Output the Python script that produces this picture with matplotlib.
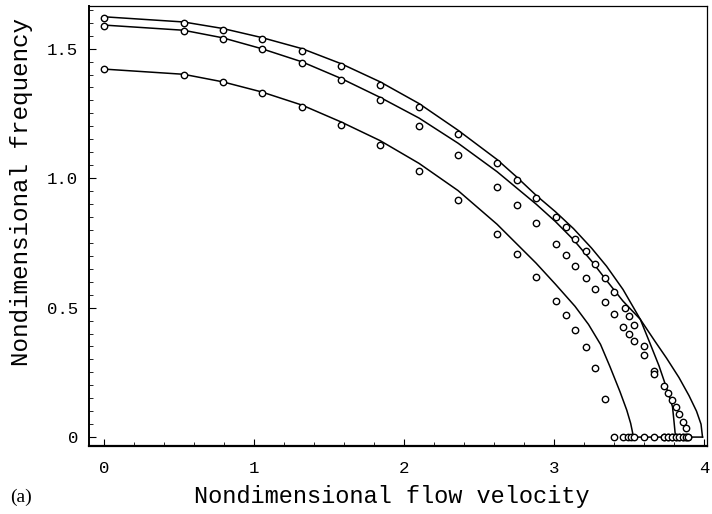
import numpy as np
import matplotlib.pyplot as plt
from matplotlib.ticker import MultipleLocator, FixedLocator

plt.rcParams['font.family'] = ['Liberation Mono', 'DejaVu Sans Mono']

# measured points (circles), three modes
x_top = [0.0, 0.53, 0.79, 1.05, 1.32, 1.58, 1.84, 2.10, 2.36, 2.62, 2.75, 2.88,
         3.01, 3.08, 3.14, 3.21, 3.27, 3.34, 3.40, 3.47, 3.50, 3.535, 3.60, 3.667,
         3.73, 3.757, 3.784, 3.81, 3.835, 3.862, 3.877, 3.89]
y_top = [1.619, 1.600, 1.571, 1.537, 1.490, 1.432, 1.360, 1.275, 1.172, 1.059, 0.992, 0.924,
         0.848, 0.810, 0.763, 0.718, 0.670, 0.616, 0.561, 0.500, 0.467, 0.431, 0.351, 0.257,
         0.196, 0.172, 0.145, 0.117, 0.088, 0.057, 0.037, 0.0]

x_mid = [0.0, 0.53, 0.79, 1.05, 1.32, 1.58, 1.84, 2.10, 2.36, 2.62, 2.75, 2.88,
         3.01, 3.08, 3.14, 3.21, 3.27, 3.34, 3.40, 3.46, 3.50, 3.535, 3.60, 3.667,
         3.73, 3.757, 3.784, 3.81, 3.835, 3.862, 3.88]
y_mid = [1.588, 1.568, 1.537, 1.498, 1.446, 1.378, 1.300, 1.200, 1.091, 0.967, 0.898, 0.825,
         0.745, 0.703, 0.660, 0.615, 0.570, 0.522, 0.474, 0.426, 0.397, 0.371, 0.317, 0.245,
         0.0, 0.0, 0.0, 0.0, 0.0, 0.0, 0.0]

x_low = [0.0, 0.53, 0.79, 1.05, 1.32, 1.58, 1.84, 2.10, 2.36, 2.62, 2.75, 2.88,
         3.01, 3.08, 3.14, 3.21, 3.27, 3.34, 3.40, 3.46, 3.49, 3.51, 3.535, 3.60,
         3.667, 3.73, 3.757, 3.784, 3.81, 3.835, 3.86, 3.88, 3.89]
y_low = [1.421, 1.399, 1.370, 1.330, 1.275, 1.207, 1.126, 1.028, 0.917, 0.783, 0.706, 0.620,
         0.525, 0.471, 0.413, 0.346, 0.265, 0.147, 0.0, 0.0, 0.0, 0.0, 0.0, 0.0,
         0.0, 0.0, 0.0, 0.0, 0.0, 0.0, 0.0, 0.0, 0.0]

# theoretical curves (solid lines)
cx_upper = [0.0, 0.53, 0.79, 1.05, 1.32, 1.58, 1.84, 2.10, 2.36, 2.62, 2.75, 2.88,
            3.01, 3.13, 3.25, 3.35, 3.46, 3.575, 3.64, 3.70, 3.75, 3.79, 3.80, 3.81]
cy_upper = [1.623, 1.603, 1.578, 1.543, 1.500, 1.442, 1.372, 1.288, 1.185, 1.072, 1.005, 0.934,
            0.870, 0.805, 0.730, 0.660, 0.570, 0.455, 0.362, 0.275, 0.19, 0.117, 0.06, 0.0]

cx_mid = [0.0, 0.53, 0.79, 1.05, 1.32, 1.58, 1.84, 2.10, 2.36, 2.62, 2.88,
          3.01, 3.13, 3.25, 3.35, 3.46, 3.575, 3.673, 3.75, 3.833, 3.90, 3.95, 3.98, 3.99]
cy_mid = [1.591, 1.571, 1.542, 1.500, 1.449, 1.385, 1.312, 1.232, 1.135, 1.025, 0.900,
          0.832, 0.762, 0.680, 0.605, 0.525, 0.455, 0.370, 0.305, 0.230, 0.160, 0.100, 0.05, 0.0]

cx_low = [0.0, 0.53, 0.79, 1.05, 1.32, 1.58, 1.84, 2.10, 2.36, 2.62, 2.88,
          3.01, 3.14, 3.23, 3.31, 3.373, 3.44, 3.485, 3.511, 3.53, 3.99]
cy_low = [1.421, 1.401, 1.372, 1.333, 1.282, 1.217, 1.145, 1.057, 0.952, 0.822, 0.672,
          0.590, 0.505, 0.435, 0.358, 0.272, 0.175, 0.104, 0.053, 0.0, 0.0]

fig = plt.figure(figsize=(7.12, 5.14), dpi=100)
ax = fig.add_axes([0.125, 0.132, 0.868, 0.856])

for cx, cy in [(cx_upper, cy_upper), (cx_mid, cy_mid), (cx_low, cy_low)]:
    ax.plot(cx, cy, color='black', linewidth=1.1)

for px, py in [(x_top, y_top), (x_mid, y_mid), (x_low, y_low)]:
    ax.plot(px, py, linestyle='none', marker='o', markersize=4.6,
            markerfacecolor='white', markeredgecolor='black', markeredgewidth=1.0)

ax.set_xlim(-0.1, 4.02)
ax.set_ylim(-0.035, 1.664)

ax.xaxis.set_major_locator(FixedLocator([0, 1, 2, 3, 4]))
ax.xaxis.set_minor_locator(MultipleLocator(0.2))
ax.yaxis.set_major_locator(FixedLocator([0, 0.5, 1.0, 1.5]))
ax.yaxis.set_minor_locator(MultipleLocator(0.05))
ax.set_xticklabels(['0', '1', '2', '3', '4'])
ax.set_yticklabels(['0', '0.5', '1.0', '1.5'])

ax.tick_params(which='both', direction='in', top=False, right=False, labelsize=12.5)
ax.tick_params(which='major', length=5, width=0.8)
ax.tick_params(which='minor', length=3, width=0.6)
ax.tick_params(axis='x', pad=11)
ax.tick_params(axis='y', pad=8)

ax.spines['left'].set_linewidth(1.4)
ax.spines['bottom'].set_linewidth(1.6)
ax.spines['top'].set_linewidth(0.9)
ax.spines['right'].set_linewidth(0.9)

fig.text(392 / 712, 1 - 497 / 514, 'Nondimensional flow velocity',
         ha='center', va='center', fontsize=17)
fig.text(22 / 712, 1 - 192 / 514, 'Nondimensional frequency',
         ha='center', va='center', rotation=90, fontsize=17.5)
fig.text(10 / 712, 1 - 497 / 514, '(a)', ha='left', va='center',
         fontsize=14, family='Liberation Serif')

plt.savefig('out.png', dpi=100)
plt.close()
